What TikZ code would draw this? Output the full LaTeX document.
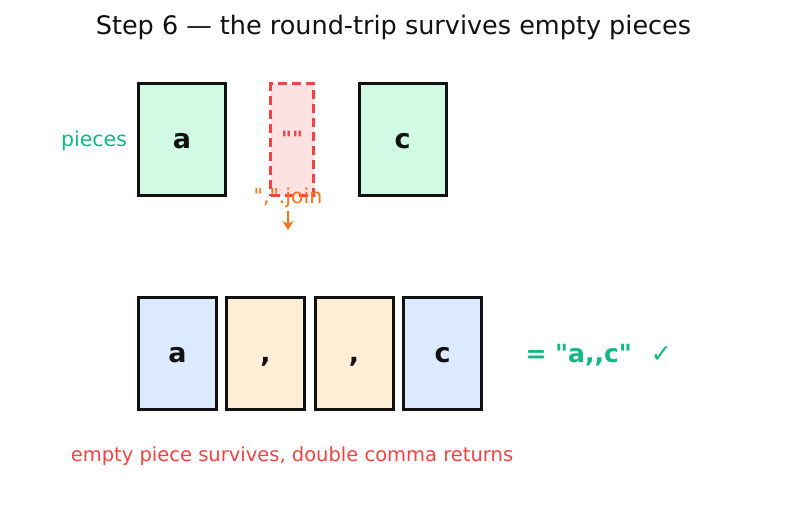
\documentclass[tikz,border=0pt]{standalone}
\usepackage{fontspec}
\newfontfamily\dv{DejaVu Sans}
\usetikzlibrary{arrows.meta}
\definecolor{ink}{HTML}{111111}
\definecolor{mint}{HTML}{D1FAE5}
\definecolor{pinkf}{HTML}{FEE2E2}
\definecolor{redl}{HTML}{EF4444}
\definecolor{bluef}{HTML}{DBEAFE}
\definecolor{peach}{HTML}{FFEDD5}
\definecolor{grn}{HTML}{10B981}
\definecolor{orng}{HTML}{F97316}
\tikzset{
  every node/.style={font=\dv},
  piece/.style={draw=ink, line width=3pt, minimum width=87pt, minimum height=112pt, inner sep=0pt, text height=18pt, text depth=0pt, font=\dv\fontsize{27}{30}\selectfont\bfseries, text=ink},
  outbox/.style={piece, minimum width=78pt},
}
\begin{document}
\begin{tikzpicture}[x=1pt,y=-1pt]
\useasboundingbox (0,0) rectangle (787,512);
\node[font=\dv\fontsize{25.5}{30}\selectfont, text=ink] (title) at (393.5,27.5) {Step 6 — the round-trip survives empty pieces};
\node[text=grn, font=\dv\fontsize{20.5}{24}\selectfont] (lbl) at (94,141) {pieces};
\node[piece, fill=mint] (pa) at (182,139.5) {a};
\node[draw=redl, dash pattern=on 9pt off 5pt, line width=2.5pt, fill=pinkf, minimum width=43pt, minimum height=112pt, inner sep=0pt, text=redl, text depth=2pt, font=\dv\fontsize{21}{24}\selectfont\bfseries] (pb) at (292,139.5) {""};
\node[piece, fill=mint] (pc) at (402.5,139.5) {c};
\node[text=orng, font=\dv\fontsize{20.5}{24}\selectfont] (join) at (288,197.5) {",".join};
\coordinate (arrs) at (288,211);
\coordinate (arre) at (288,230);
\draw[orng, line width=2.8pt, -{Stealth[length=9pt,width=11pt]}] (arrs) -- (arre);
\node[outbox, fill=bluef] (oa) at (177.5,353.5) {a};
\node[outbox, fill=peach] (o1) at (265.5,353.5) {,};
\node[outbox, fill=peach] (o2) at (354,353.5) {,};
\node[outbox, fill=bluef] (oc) at (442.5,353.5) {c};
\node[text=grn, font=\dv\fontsize{25}{30}\selectfont\bfseries, anchor=west] (res) at (522,355) {= "a,,c"\hspace{19pt}\mdseries ✓};
\node[text=redl, font=\dv\fontsize{19.5}{24}\selectfont] (note) at (292,456.5) {empty piece survives, double comma returns};
\end{tikzpicture}
\end{document}
